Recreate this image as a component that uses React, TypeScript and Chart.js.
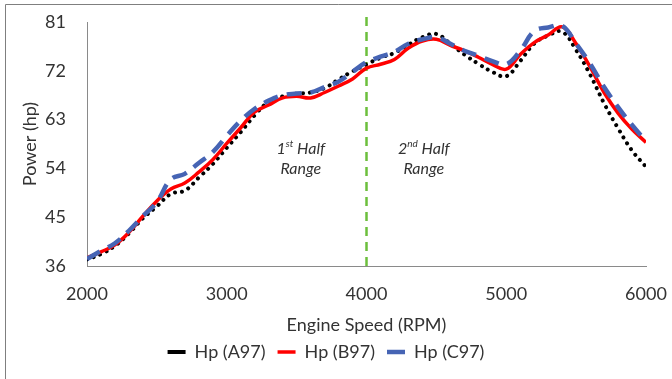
import React, { useEffect, useRef } from 'react';
import { Chart, registerables } from 'chart.js';

Chart.register(...registerables);

const rpm = [
  2000, 2100, 2200, 2300, 2400, 2500, 2600, 2700, 2800, 2900,
  3000, 3100, 3200, 3300, 3400, 3500, 3600, 3700, 3800, 3900,
  4000, 4100, 4200, 4300, 4400, 4500, 4600, 4700, 4800, 4900,
  5000, 5100, 5200, 5300, 5400, 5500, 5600, 5700, 5800, 5900,
  6000,
];

const hpA97 = [
  37.2, 38.2, 39.7, 42.0, 44.8, 47.0, 49.3, 49.9, 52.3, 54.8,
  57.8, 60.7, 63.8, 66.3, 67.3, 67.8, 68.0, 68.8, 70.4, 71.9,
  73.2, 74.4, 75.3, 76.8, 78.2, 78.8, 77.0, 75.0, 73.3, 71.8,
  71.0, 73.8, 77.0, 78.5, 79.2, 75.8, 71.3, 66.0, 61.4, 57.3,
  54.3,
];

const hpB97 = [
  37.5, 38.6, 39.9, 42.2, 45.2, 48.0, 50.2, 51.3, 53.3, 55.6,
  58.6, 61.5, 64.4, 65.7, 67.0, 67.3, 67.0, 68.0, 69.2, 70.5,
  72.5, 73.2, 74.1, 76.2, 77.5, 77.8, 76.7, 75.7, 74.5, 73.2,
  72.3, 75.0, 77.2, 78.6, 80.1, 77.0, 72.7, 68.0, 64.2, 61.2,
  58.8,
];

const hpC97 = [
  37.3, 38.8, 40.2, 42.5, 45.2, 47.8, 52.0, 53.0, 55.0, 57.0,
  60.0, 62.8, 65.0, 66.5, 67.5, 67.8, 68.0, 69.0, 70.0, 71.8,
  73.6, 74.6, 75.5, 77.0, 77.8, 78.2, 77.0, 75.7, 74.8, 73.8,
  73.2, 75.7, 79.3, 80.0, 80.3, 77.0, 73.3, 69.0, 65.3, 62.0,
  59.0,
];

const seriesLabels = ['Hp (A97)', 'Hp (B97)', 'Hp (C97)'];
const splitRpm = 4000;
const yMin = 36;
const yMax = 81;
const yStep = 9;
const xMin = 2000;
const xMax = 6000;
const xStep = 1000;

const rangeTexts = [
  { num: '1', sup: 'st', rest: ' Half', second: 'Range', x: 3530, y1: 57.6, y2: 53.9 },
  { num: '2', sup: 'nd', rest: ' Half', second: 'Range', x: 4410, y1: 57.6, y2: 53.9 },
];

const TEXT = '#333333';
const FONT = 'Lato';

const framePlugin = {
  id: 'frame',
  beforeDraw(chart: any) {
    const { ctx, width, height } = chart;
    ctx.save();
    ctx.strokeStyle = '#7f7f7f';
    ctx.lineWidth = 1;
    ctx.beginPath();
    ctx.moveTo(5.5, height);
    ctx.lineTo(5.5, 4.5);
    ctx.lineTo(width, 4.5);
    ctx.stroke();
    ctx.restore();
  },
};

const rangeLabelPlugin = {
  id: 'rangeLabels',
  afterDatasetsDraw(chart: any) {
    const { ctx, scales } = chart;
    const xs = scales.x;
    const ys = scales.y;
    ctx.save();
    ctx.fillStyle = TEXT;
    ctx.textBaseline = 'middle';
    rangeTexts.forEach((t) => {
      const cx = xs.getPixelForValue(t.x);
      const cy1 = ys.getPixelForValue(t.y1);
      const cy2 = ys.getPixelForValue(t.y2);
      const mainFont = `italic 16px ${FONT}`;
      const supFont = `italic 10px ${FONT}`;
      ctx.font = mainFont;
      const w1 = ctx.measureText(t.num).width;
      const w3 = ctx.measureText(t.rest).width;
      ctx.font = supFont;
      const w2 = ctx.measureText(t.sup).width;
      const total = w1 + w2 + w3;
      let sx = cx - total / 2;
      ctx.textAlign = 'left';
      ctx.font = mainFont;
      ctx.fillText(t.num, sx, cy1);
      sx += w1;
      ctx.font = supFont;
      ctx.fillText(t.sup, sx, cy1 - 5);
      sx += w2;
      ctx.font = mainFont;
      ctx.fillText(t.rest, sx, cy1);
      ctx.textAlign = 'center';
      ctx.fillText(t.second, cx, cy2);
    });
    ctx.restore();
  },
};

export default function App() {
  const ref = useRef<HTMLCanvasElement | null>(null);

  useEffect(() => {
    if (!ref.current) return;
    const toPts = (vals: number[]) => rpm.map((r, i) => ({ x: r, y: vals[i] }));
    const chart = new Chart(ref.current, {
      type: 'line',
      data: {
        datasets: [
          {
            label: seriesLabels[0],
            data: toPts(hpA97),
            borderColor: '#000000',
            backgroundColor: '#000000',
            borderWidth: 4,
            borderDash: [0.01, 7],
            borderCapStyle: 'round',
            pointRadius: 0,
            tension: 0.4,
            order: 3,
          },
          {
            label: seriesLabels[1],
            data: toPts(hpB97),
            borderColor: '#ff0000',
            backgroundColor: '#ff0000',
            borderWidth: 3.5,
            pointRadius: 0,
            tension: 0.4,
            order: 2,
          },
          {
            label: seriesLabels[2],
            data: toPts(hpC97),
            borderColor: '#4664b4',
            backgroundColor: '#4664b4',
            borderWidth: 4.5,
            borderDash: [15, 9],
            pointRadius: 0,
            tension: 0.4,
            order: 1,
          },
          {
            label: 'split',
            data: [
              { x: splitRpm, y: yMin },
              { x: splitRpm, y: yMax + 1.3 },
            ],
            borderColor: '#6cbf3c',
            borderWidth: 2.5,
            borderDash: [9, 6],
            pointRadius: 0,
            clip: false as any,
            order: 4,
          },
        ],
      },
      options: {
        responsive: false,
        animation: false,
        layout: { autoPadding: false, padding: { left: 6, right: 26, top: 22, bottom: 8 } },
        plugins: {
          tooltip: { enabled: false },
          legend: {
            position: 'bottom',
            labels: {
              filter: (item: any) => item.text !== 'split',
              usePointStyle: true,
              pointStyleWidth: 18,
              padding: 12,
              color: TEXT,
              font: { family: FONT, size: 18 },
              generateLabels: (chart: any) => {
                const items = Chart.defaults.plugins.legend.labels.generateLabels(chart);
                return items
                  .map((it: any) => ({ ...it, pointStyle: 'line' }))
                  .sort((a: any, b: any) => a.datasetIndex - b.datasetIndex);
              },
            },
          },
        },
        scales: {
          x: {
            type: 'linear',
            min: xMin,
            max: xMax,
            grid: { display: false, drawTicks: false },
            border: { display: true, color: '#8a8a8a', width: 1 },
            ticks: {
              stepSize: xStep,
              padding: 17,
              color: TEXT,
              font: { family: FONT, size: 18 },
              callback: (v: any) => String(v),
            },
            title: {
              display: true,
              text: 'Engine Speed (RPM)',
              color: TEXT,
              font: { family: FONT, size: 18, lineHeight: 1 },
              padding: { top: 0, bottom: -3 },
            },
            afterFit: (s: any) => {
              s.height = 65;
              s.paddingLeft = 0;
              s.paddingRight = 0;
            },
          },
          y: {
            min: yMin,
            max: yMax,
            grid: { display: false, drawTicks: false },
            border: { display: true, color: '#8a8a8a', width: 1 },
            ticks: {
              stepSize: yStep,
              padding: 21,
              color: TEXT,
              font: { family: FONT, size: 18 },
            },
            title: {
              display: true,
              text: 'Power (hp)',
              color: TEXT,
              font: { family: FONT, size: 18, lineHeight: 1 },
              padding: { top: 15, bottom: 0 },
            },
            afterFit: (s: any) => {
              s.width = 81;
              s.paddingTop = 0;
              s.paddingBottom = 0;
            },
          },
        },
      },
      plugins: [framePlugin, rangeLabelPlugin],
    } as any);
    return () => chart.destroy();
  }, []);

  return (
    <div style={{ position: 'absolute', left: 0, top: 0, width: 672, height: 379, overflow: 'hidden', background: '#fff' }}>
      <canvas ref={ref} width={672} height={379} style={{ display: 'block' }} />
    </div>
  );
}
